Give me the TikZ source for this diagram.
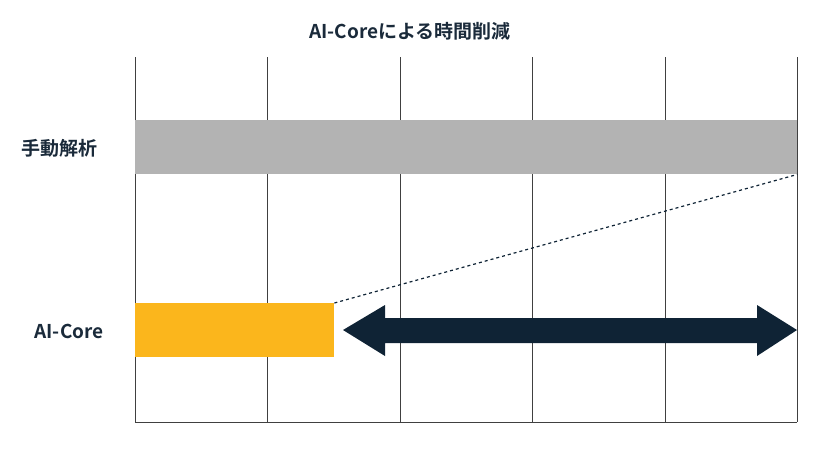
\documentclass[tikz,border=0pt]{standalone}
\usepackage{fontspec}
\setmainfont{Noto Sans CJK JP}[BoldFont={* Bold}]
\definecolor{navy}{HTML}{0F2335}
\definecolor{txt}{HTML}{1A2A3A}
\definecolor{grayb}{HTML}{B3B3B3}
\definecolor{orangeb}{HTML}{FBB61C}
\tikzset{lbl/.style={font=\bfseries\fontsize{19}{22}\selectfont,text=txt},
grid/.style={draw=black!75,line width=0.6pt}}
\begin{document}
\begin{tikzpicture}[x=1pt,y=-1pt]
\useasboundingbox (0,0) rectangle (840,450);
\foreach \x in {135,267,400,532,665,797} \draw[grid] (\x,57) -- (\x,422);
\draw[grid] (135,422) -- (797,422);
\node[fill=grayb,minimum width=662,minimum height=54,inner sep=0,anchor=north west] (g) at (135,120) {};
\node[fill=orangeb,minimum width=199,minimum height=54,inner sep=0,anchor=north west] (o) at (135,303) {};
\draw[navy,dashed,line width=1.2pt] (o.north east) -- (g.south east);
\fill[navy] (343,330) -- (385,305) -- (385,318) -- (757,318) -- (757,305) -- (797,330) -- (757,356) -- (757,343) -- (385,343) -- (385,356) -- cycle;
\node[lbl] (t) at (410,31) {AI-Coreによる時間削減};
\node[lbl] (a) at (59,148) {手動解析};
\node[lbl] (b) at (69,331) {AI-Core};
\end{tikzpicture}
\end{document}
